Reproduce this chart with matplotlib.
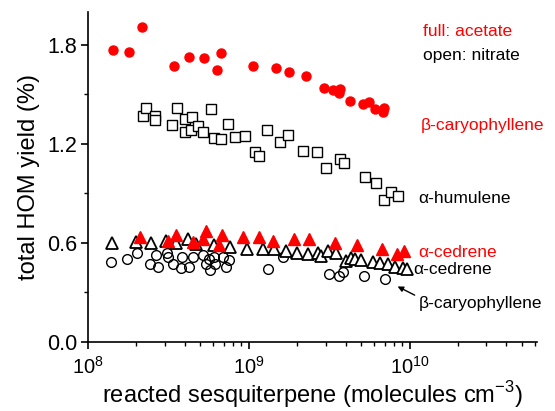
import numpy as np
import matplotlib
matplotlib.use("Agg")
import matplotlib.pyplot as plt
from matplotlib.ticker import MultipleLocator, LogLocator, FormatStrFormatter

plt.rcParams['font.family'] = ['Liberation Sans', 'DejaVu Sans']
plt.rcParams['mathtext.fontset'] = 'custom'
plt.rcParams['mathtext.rm'] = 'Liberation Sans'

# beta-caryophyllene, acetate (full red circles)
bcar_ac_x = [1.44e8, 1.81e8, 2.16e8, 3.42e8, 4.24e8, 5.23e8, 6.33e8, 6.67e8, 1.06e9, 1.47e9,
             1.78e9, 2.26e9, 2.92e9, 3.34e9, 3.62e9, 3.71e9, 4.24e9, 5.13e9, 5.59e9, 6.06e9,
             6.83e9, 6.92e9]
bcar_ac_y = [1.77, 1.76, 1.91, 1.67, 1.727, 1.723, 1.648, 1.753, 1.673, 1.659,
             1.638, 1.612, 1.538, 1.527, 1.507, 1.532, 1.461, 1.442, 1.456, 1.412,
             1.396, 1.416]

# alpha-humulene, nitrate (open squares)
hum_ni_x = [2.21e8, 2.29e8, 2.61e8, 2.62e8, 3.32e8, 3.56e8, 3.99e8, 4.0e8, 4.38e8, 4.41e8,
            4.82e8, 5.16e8, 5.78e8, 6.06e8, 6.73e8, 7.38e8, 8.19e8, 9.48e8, 1.10e9, 1.15e9,
            1.29e9, 1.57e9, 1.75e9, 2.17e9, 2.67e9, 3.04e9, 3.67e9, 3.89e9, 5.25e9, 6.21e9,
            6.90e9, 7.70e9, 8.46e9]
hum_ni_y = [1.372, 1.416, 1.372, 1.345, 1.315, 1.416, 1.353, 1.271, 1.287, 1.362,
            1.309, 1.275, 1.412, 1.238, 1.232, 1.319, 1.242, 1.247, 1.153, 1.129,
            1.287, 1.214, 1.255, 1.156, 1.150, 1.053, 1.107, 1.083, 1.002, 0.962,
            0.861, 0.911, 0.885]

# alpha-cedrene, nitrate (open triangles)
ced_ni_x = [1.40e8, 1.98e8, 2.45e8, 3.05e8, 3.52e8, 4.16e8, 4.69e8, 6.06e8, 7.62e8, 9.79e8,
            1.22e9, 1.44e9, 1.71e9, 2.0e9, 2.32e9, 2.69e9, 2.83e9, 3.11e9, 3.51e9, 4.0e9,
            4.34e9, 4.55e9, 5.01e9, 5.92e9, 6.51e9, 7.33e9, 8.07e9, 9.08e9, 9.58e9]
ced_ni_y = [0.598, 0.608, 0.598, 0.612, 0.598, 0.624, 0.591, 0.588, 0.578, 0.562,
            0.562, 0.562, 0.552, 0.539, 0.533, 0.538, 0.521, 0.552, 0.541, 0.493,
            0.509, 0.501, 0.497, 0.487, 0.477, 0.473, 0.456, 0.447, 0.441]

# alpha-cedrene, acetate (full red triangles)
ced_ac_x = [2.10e8, 3.15e8, 3.52e8, 4.51e8, 5.16e8, 5.38e8, 6.54e8, 6.83e8, 9.22e8, 1.15e9,
            1.42e9, 1.91e9, 2.36e9, 3.46e9, 4.72e9, 6.72e9, 8.36e9, 9.2e9]
ced_ac_y = [0.638, 0.614, 0.650, 0.603, 0.623, 0.675, 0.587, 0.650, 0.635, 0.635,
            0.609, 0.621, 0.621, 0.599, 0.589, 0.566, 0.533, 0.553]

# beta-caryophyllene, nitrate (open circles)
bcar_ni_x = [1.39e8, 1.74e8, 2.01e8, 2.43e8, 2.63e8, 2.71e8, 3.12e8, 3.14e8, 3.39e8, 3.78e8,
             3.82e8, 4.27e8, 4.51e8, 5.20e8, 5.42e8, 5.62e8, 5.75e8, 6.06e8, 6.12e8, 6.92e8,
             7.20e8, 7.55e8, 1.31e9, 1.64e9, 3.15e9, 3.64e9, 3.84e9, 5.20e9, 7.03e9]
bcar_ni_y = [0.487, 0.501, 0.537, 0.471, 0.527, 0.457, 0.541, 0.514, 0.475, 0.451,
             0.515, 0.457, 0.512, 0.527, 0.475, 0.505, 0.436, 0.512, 0.475, 0.514,
             0.457, 0.497, 0.445, 0.514, 0.411, 0.398, 0.426, 0.402, 0.380]

fig = plt.figure(figsize=(5.55, 4.11), dpi=100)
ax = fig.add_axes([0.1586, 0.168, 0.809, 0.803])

ax.plot(hum_ni_x, hum_ni_y, 's', ms=6.5, mfc='white', mec='black', mew=1.0, ls='none')
ax.plot(bcar_ni_x, bcar_ni_y, 'o', ms=7, mfc='none', mec='black', mew=1.0, ls='none')
ax.plot(ced_ni_x, ced_ni_y, '^', ms=9, mfc='white', mec='black', mew=1.3, ls='none')
ax.plot(ced_ac_x, ced_ac_y, '^', ms=8.5, color='#ff0000', mec='#ff0000', ls='none')
ax.plot(bcar_ac_x, bcar_ac_y, 'o', ms=6.5, color='#ff0000', mec='#ff0000', ls='none')

ax.set_xscale('log')
ax.set_xlim(1e8, 6.2e10)
ax.set_ylim(0, 2.0)
ax.yaxis.set_major_locator(MultipleLocator(0.6))
ax.yaxis.set_minor_locator(MultipleLocator(0.3))
ax.yaxis.set_major_formatter(FormatStrFormatter('%.1f'))
ax.xaxis.set_major_locator(LogLocator(base=10, numticks=10))
ax.xaxis.set_minor_locator(LogLocator(base=10, subs=np.arange(2, 10), numticks=10))

for s in ['top', 'right']:
    ax.spines[s].set_visible(False)
for s in ['left', 'bottom']:
    ax.spines[s].set_linewidth(1.2)
ax.tick_params(which='major', direction='out', length=5, width=1.2, pad=4)
ax.tick_params(which='minor', direction='out', length=3, width=1.0)
ax.tick_params(axis='y', labelsize=15.5, pad=3)
ax.tick_params(axis='x', labelsize=14.5, pad=5)

ax.set_xlabel('reacted sesquiterpene (molecules cm$^{-3}$)', fontsize=17, labelpad=1)
ax.set_ylabel('total HOM yield (%)', fontsize=17, labelpad=5)

tfs = 12.5
ax.text(0.745, 0.941, 'full: acetate', color='#ff0000', fontsize=tfs, transform=ax.transAxes, va='center')
ax.text(0.745, 0.869, 'open: nitrate', color='black', fontsize=tfs, transform=ax.transAxes, va='center')
ax.text(0.742, 0.657, 'β-caryophyllene', color='#ff0000', fontsize=tfs, transform=ax.transAxes, va='center')
ax.text(0.736, 0.434, 'α-humulene', color='black', fontsize=tfs, transform=ax.transAxes, va='center')
ax.text(0.736, 0.272, 'α-cedrene', color='#ff0000', fontsize=tfs, transform=ax.transAxes, va='center')
ax.text(0.725, 0.219, 'α-cedrene', color='black', fontsize=tfs, transform=ax.transAxes, va='center')
ax.text(0.736, 0.118, 'β-caryophyllene', color='black', fontsize=tfs, transform=ax.transAxes, va='center')
ax.annotate('', xy=(0.684, 0.172), xytext=(0.733, 0.138), xycoords='axes fraction',
            arrowprops=dict(arrowstyle='-|>', color='black', lw=1.0, mutation_scale=8))

fig.savefig('out.png', dpi=100)
